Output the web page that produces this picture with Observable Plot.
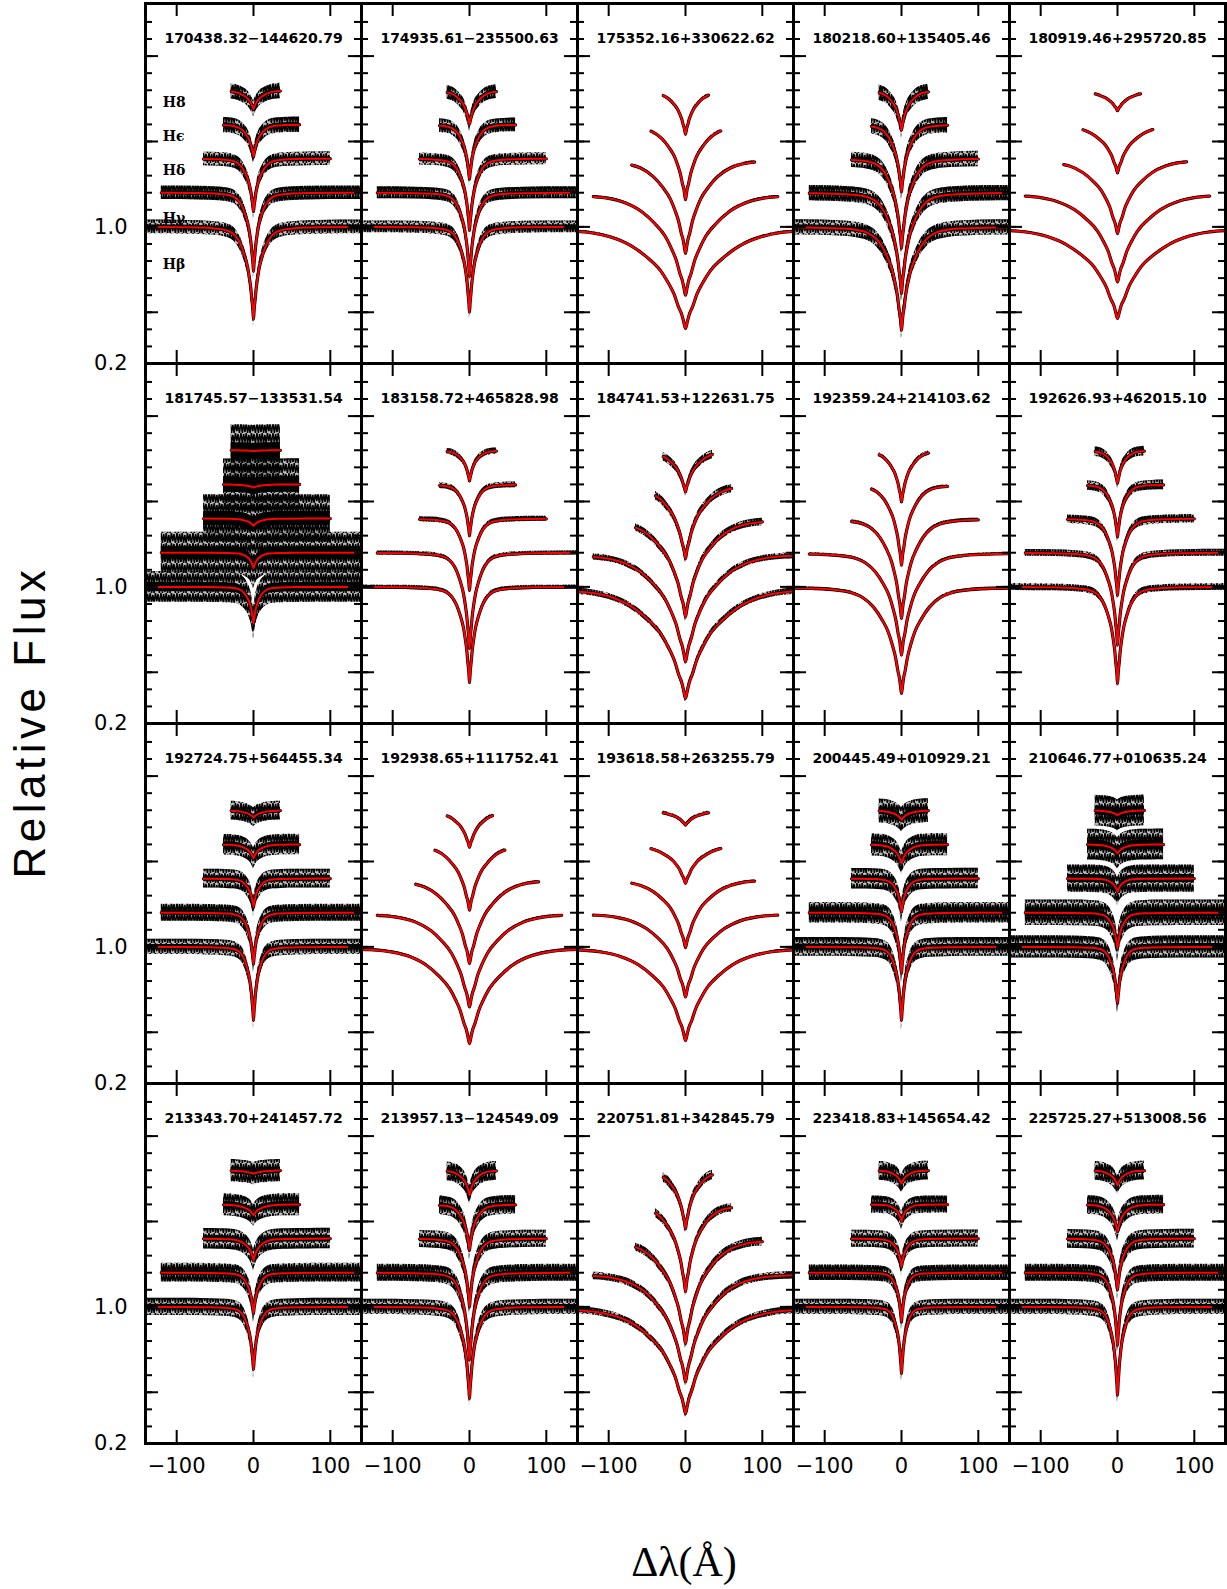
<!DOCTYPE html>
<html>
<head>
<meta charset="utf-8">
<script src="https://cdn.jsdelivr.net/npm/d3@7"></script>
<script src="https://cdn.jsdelivr.net/npm/@observablehq/plot@0.6"></script>
<style>
  body { margin: 0; background: #fff; }
  #fig { position: relative; width: 1227px; height: 1589px; background: #fff; overflow: hidden; }
  #fig svg { position: absolute; overflow: visible; background: none; }
  #ytitle { position: absolute; left: 30px; top: 722px; transform: translate(-50%, -50%) rotate(-90deg);
            font: 44px "Liberation Sans", sans-serif; letter-spacing: 4.5px; white-space: nowrap; color: #000; }
  #xtitle { position: absolute; left: 684px; top: 1562px; transform: translate(-50%, -50%);
            font: 42px "Liberation Serif", serif; white-space: nowrap; color: #000; }
</style>
</head>
<body>
<div id="fig">
  <svg width="0" height="0" style="position:absolute;left:0;top:0">
    <defs>
      <pattern id="specnoise" patternUnits="userSpaceOnUse" width="16" height="10">
        <path d="M0,0 L1.4,10 L2.6,1 L4,9 L5.2,0 L6.6,10 L7.8,2 L9.2,10 L10.4,0 L11.8,8 L13,1 L14.4,10 L16,0"
              fill="none" stroke="#000" stroke-width="1.5"></path>
      </pattern>
    </defs>
  </svg>
  <div id="ytitle">Relative Flux</div>
  <div id="xtitle">Δλ(Å)</div>
</div>
<script>
// ---- data ----
const stars = [
  "170438.32−144620.79", "174935.61−235500.63", "175352.16+330622.62", "180218.60+135405.46", "180919.46+295720.85",
  "181745.57−133531.54", "183158.72+465828.98", "184741.53+122631.75", "192359.24+214103.62", "192626.93+462015.10",
  "192724.75+564455.34", "192938.65+111752.41", "193618.58+263255.79", "200445.49+010929.21", "210646.77+010635.24",
  "213343.70+241457.72", "213957.13−124549.09", "220751.81+342845.79", "223418.83+145654.42", "225725.27+513008.56"
];
const lineNames = ["Hβ", "Hγ", "Hδ", "Hϵ", "H8"];
const continuum = [1.0, 1.2, 1.4, 1.6, 1.8];
// line depth below continuum (Hβ, Hγ, Hδ, Hε, H8)
const depth = [
  [0.54, 0.46, 0.31, 0.19, 0.11],
  [0.50, 0.49, 0.42, 0.32, 0.20],
  [0.595, 0.60, 0.556, 0.44, 0.258],
  [0.605, 0.59, 0.525, 0.395, 0.234],
  [0.536, 0.522, 0.439, 0.284, 0.12],
  [0.214, 0.09, 0.043, 0.018, 0.005],
  [0.56, 0.56, 0.42, 0.30, 0.18],
  [0.653, 0.639, 0.576, 0.434, 0.244],
  [0.624, 0.60, 0.585, 0.473, 0.302],
  [0.566, 0.541, 0.449, 0.307, 0.195],
  [0.43, 0.30, 0.166, 0.082, 0.042],
  [0.566, 0.551, 0.498, 0.385, 0.218],
  [0.549, 0.493, 0.404, 0.229, 0.087],
  [0.43, 0.356, 0.195, 0.112, 0.056],
  [0.331, 0.21, 0.078, 0.053, 0.029],
  [0.365, 0.239, 0.127, 0.063, 0.02],
  [0.536, 0.512, 0.40, 0.268, 0.146],
  [0.625, 0.64, 0.615, 0.511, 0.342],
  [0.39, 0.289, 0.166, 0.098, 0.078],
  [0.517, 0.425, 0.30, 0.16, 0.088]
];
// half width at half depth, in Å
const halfWidth = [
  [6, 5, 5, 5, 6], [5, 5, 5, 5, 6], [25, 20, 15, 11, 8], [9, 8, 7, 6, 6], [24, 20, 16, 12, 10],
  [4, 4, 5, 6, 6], [6, 6, 5.5, 5, 5], [24, 20, 16, 12, 9], [13, 12, 10, 8, 7], [6, 6, 5.5, 5, 5],
  [4, 4, 4, 5, 6], [20, 18, 15, 11, 9], [22, 18, 15, 12, 10], [4, 4, 4, 5, 6], [4, 4, 4, 5, 6],
  [4, 4, 5, 6, 8], [5, 5, 5, 5, 5], [22, 18, 15, 10, 8], [3.5, 3.5, 4, 4, 5], [4, 4, 4.5, 5, 5]
];
// half spread of the observed (noisy) spectrum around the fit
const noise = [
  [0.04, 0.04, 0.04, 0.045, 0.045], [0.035, 0.035, 0.035, 0.04, 0.04], [0.007, 0.007, 0.008, 0.008, 0.01],
  [0.045, 0.045, 0.045, 0.045, 0.045], [0.004, 0.004, 0.005, 0.005, 0.006], [0.09, 0.12, 0.14, 0.15, 0.15],
  [0.012, 0.012, 0.015, 0.017, 0.018], [0.018, 0.018, 0.022, 0.025, 0.025], [0.008, 0.008, 0.01, 0.01, 0.012],
  [0.02, 0.02, 0.025, 0.028, 0.028], [0.045, 0.05, 0.055, 0.06, 0.055], [0.007, 0.007, 0.008, 0.008, 0.01],
  [0.006, 0.006, 0.007, 0.008, 0.01], [0.055, 0.06, 0.06, 0.065, 0.07], [0.065, 0.075, 0.08, 0.09, 0.09],
  [0.05, 0.055, 0.06, 0.065, 0.065], [0.045, 0.05, 0.05, 0.055, 0.055], [0.02, 0.022, 0.025, 0.025, 0.028],
  [0.045, 0.045, 0.05, 0.05, 0.055], [0.045, 0.05, 0.055, 0.055, 0.055]
];
// fitting windows (Δλ, Å) for Hβ..H8
const windowLoA = [-141, -120, -65, -39, -29], windowHiA = [141, 141, 100, 60, 35];
const windowLoB = [-141, -120, -70, -45, -29], windowHiB = [141, 120, 90, 46, 30];
const windowType = ["A","A","B","A","B","A","A","A","A","A","A","B","B","A","A","A","A","A","A","A"];
// normalized line shape (depth fraction vs Δλ / halfWidth)
const shapeU = [0, 0.1, 0.2, 0.36, 0.6, 0.9, 1.3, 2, 2.8, 3.9, 5, 6.5, 9, 14, 25];
const shapeS = [1, 0.93, 0.86, 0.79, 0.66, 0.55, 0.43, 0.30, 0.19, 0.10, 0.055, 0.03, 0.015, 0.005, 0];
// axes
const xTicks = [-100, 0, 100];
const yMajorTicks = [0.5, 1.0, 1.5, 2.0];
const yMinorTicks = [0.3, 0.4, 0.5, 0.6, 0.7, 0.8, 0.9, 1.0, 1.1, 1.2, 1.3, 1.4, 1.5, 1.6, 1.7, 1.8, 1.9, 2.0, 2.1, 2.2];
const yLabelTicks = [0.2, 1.0];
const xDomain = [-140.6, 140.6];
const yDomain = [0.2, 2.308];
const labelFlux = [0.78, 1.05, 1.33, 1.53, 1.73];

// ---- layout ----
const X0 = 144.5, Y0 = 3.3, PW = 216, PH = 360;
const fig = document.getElementById("fig");
const shape = d3.scaleLinear(shapeU, shapeS).clamp(true);

function lineData(p, k) {
  const W = halfWidth[p][k], D = depth[p][k], c = continuum[k], n = noise[p][k];
  const lo = (windowType[p] === "A" ? windowLoA : windowLoB)[k];
  const hi = (windowType[p] === "A" ? windowHiA : windowHiB)[k];
  const xs = new Set([lo, hi]);
  for (const u of shapeU) for (const x of [-u * W, u * W]) if (x > lo && x < hi) xs.add(x);
  return Array.from(xs).sort((a, b) => a - b).map(x => {
    const y = c - D * shape(Math.abs(x) / W);
    return {line: k, x, y, y1: y - n, y2: y + n, i1: y - 0.3 * n, i2: y + 0.3 * n};
  });
}

for (let p = 0; p < stars.length; p++) {
  const r = Math.floor(p / 5), c = p % 5;
  const ml = c === 0 ? 144 : 0, mb = r === 3 ? 70 : 0;
  const data = lineNames.flatMap((_, k) => lineData(p, k));
  const marks = [];
  if (p === 0) {
    marks.push(Plot.text(lineNames, {x: -118, y: (d, i) => labelFlux[i], text: d => d, textAnchor: "start",
      fontSize: 14, fontWeight: "bold", fontFamily: "DejaVu Serif"}));
  }
  marks.push(
    Plot.areaY(data, {x: "x", y1: "y1", y2: "y2", z: "line", fill: "#000", fillOpacity: 0.25, curve: "monotone-x", clip: true}),
    Plot.areaY(data, {x: "x", y1: "y1", y2: "y2", z: "line", fill: "url(#specnoise)", curve: "monotone-x", clip: true}),
    Plot.areaY(data, {x: "x", y1: "i1", y2: "i2", z: "line", fill: "#000", curve: "monotone-x", clip: true}),
    Plot.line(data, {x: "x", y: "y", z: "line", stroke: "#000", strokeWidth: 3.2, curve: "monotone-x", clip: true}),
    Plot.line(data, {x: "x", y: "y", z: "line", stroke: "#ff0000", strokeWidth: 2, curve: "monotone-x", clip: true}),
    Plot.tickY(yMinorTicks, {y: d => d, insetRight: PW - 7, strokeWidth: 2}),
    Plot.tickY(yMinorTicks, {y: d => d, insetLeft: PW - 7, strokeWidth: 2}),
    Plot.tickY(yMajorTicks, {y: d => d, insetRight: PW - 13, strokeWidth: 2}),
    Plot.tickY(yMajorTicks, {y: d => d, insetLeft: PW - 13, strokeWidth: 2}),
    Plot.tickX(xTicks, {x: d => d, insetBottom: PH - 13, strokeWidth: 2}),
    Plot.tickX(xTicks, {x: d => d, insetTop: PH - 13, strokeWidth: 2}),
    Plot.frame({strokeWidth: 3}),
    Plot.text([stars[p]], {frameAnchor: "top", dy: 30, text: d => d, fontSize: 14, fontWeight: "bold", fontFamily: "DejaVu Sans"})
  );
  if (c === 0) {
    marks.push(Plot.axisY({ticks: yLabelTicks, anchor: "left", tickSize: 0, tickPadding: 18, tickFormat: d3.format(".1f"),
      fontSize: 21, fontFamily: "DejaVu Sans", label: null}));
  }
  if (r === 3) {
    marks.push(Plot.axisX({ticks: xTicks, anchor: "bottom", tickSize: 0, tickPadding: 15, tickFormat: d3.format("d"),
      fontSize: 21, fontFamily: "DejaVu Sans", label: null}));
  }
  const svg = Plot.plot({
    width: PW + ml, height: PH + mb,
    marginLeft: ml, marginRight: 0, marginTop: 0, marginBottom: mb,
    x: {domain: xDomain, axis: null},
    y: {domain: yDomain, axis: null},
    style: {background: "none", overflow: "visible", fontFamily: "DejaVu Sans", color: "#000"},
    marks
  });
  svg.style.left = (X0 + c * PW - ml) + "px";
  svg.style.top = (Y0 + r * PH) + "px";
  fig.appendChild(svg);
}
</script>
</body>
</html>
